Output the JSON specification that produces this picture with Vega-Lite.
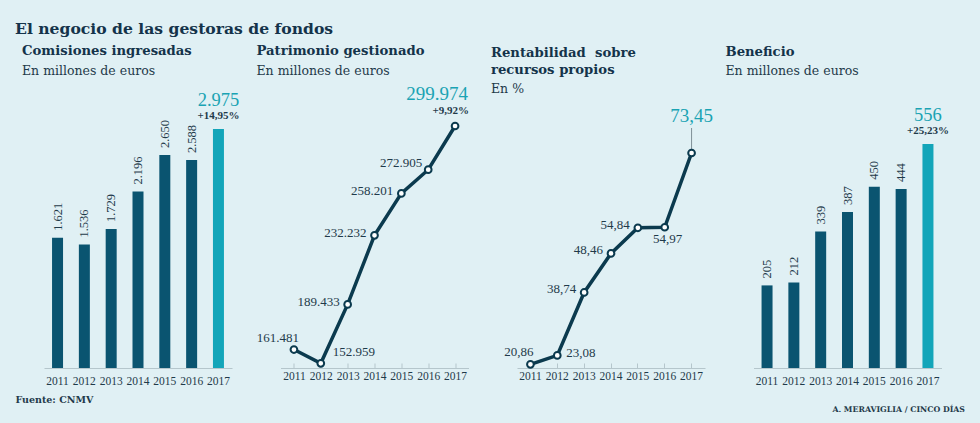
{
  "$schema": "https://vega.github.io/schema/vega-lite/v6.json",
  "background": "#e0f0f4",
  "padding": {"left": 15, "top": 21, "right": 20, "bottom": 20},
  "title": {
    "text": "El negocio de las gestoras de fondos",
    "font": "DejaVu Serif",
    "fontSize": 15.6,
    "fontWeight": "bold",
    "color": "#14334a",
    "anchor": "start",
    "dx": -29,
    "offset": 7
  },
  "datasets": {
    "comisiones": [
      {"year": "2011", "value": 1621},
      {"year": "2012", "value": 1536},
      {"year": "2013", "value": 1729},
      {"year": "2014", "value": 2196},
      {"year": "2015", "value": 2650},
      {"year": "2016", "value": 2588},
      {"year": "2017", "value": 2975, "change": 0.1495}
    ],
    "patrimonio": [
      {"year": "2011", "value": 161481},
      {"year": "2012", "value": 152959},
      {"year": "2013", "value": 189433},
      {"year": "2014", "value": 232232},
      {"year": "2015", "value": 258201},
      {"year": "2016", "value": 272905},
      {"year": "2017", "value": 299974, "change": 0.0992}
    ],
    "rentabilidad": [
      {"year": "2011", "value": 20.86},
      {"year": "2012", "value": 23.08},
      {"year": "2013", "value": 38.74},
      {"year": "2014", "value": 48.46},
      {"year": "2015", "value": 54.84},
      {"year": "2016", "value": 54.97},
      {"year": "2017", "value": 73.45}
    ],
    "beneficio": [
      {"year": "2011", "value": 205},
      {"year": "2012", "value": 212},
      {"year": "2013", "value": 339},
      {"year": "2014", "value": 387},
      {"year": "2015", "value": 450},
      {"year": "2016", "value": 444},
      {"year": "2017", "value": 556, "change": 0.2523}
    ]
  },
  "bounds": "flush",
  "spacing": 48.5,
  "hconcat": [
    {
      "width": 188,
      "height": 250,
      "title": {"text": "Comisiones ingresadas", "subtitle": "En millones de euros", "dx": -22, "offset": 13},
      "data": {"name": "comisiones"},
      "encoding": {
        "x": {
          "field": "year", "type": "ordinal",
          "scale": {"paddingInner": 0.59, "paddingOuter": 0.3},
          "axis": {"title": "Fuente: CNMV", "titleX": -29, "titleY": 31, "titleAlign": "left", "titleBaseline": "middle", "titleAnchor": "start", "ticks": false, "labelPadding": 7}
        },
        "y": {"field": "value", "type": "quantitative", "scale": {"domain": [0, 3112]}, "axis": null}
      },
      "layer": [
        {
          "mark": {"type": "bar"},
          "encoding": {"color": {"condition": {"test": "datum.year == '2017'", "value": "#13a5b9"}, "value": "#0a5470"}}
        },
        {
          "transform": [{"filter": "datum.year != '2017'"}],
          "mark": {"type": "text", "angle": 270, "align": "left", "baseline": "middle", "dx": 7, "fontSize": 12.5, "font": "Liberation Serif", "color": "#1f3a4a"},
          "encoding": {"text": {"field": "value", "type": "quantitative", "format": ",.0f"}}
        },
        {
          "transform": [{"filter": "datum.year == '2017'"}],
          "mark": {"type": "text", "baseline": "middle", "dy": -29, "fontSize": 18.5, "font": "Liberation Serif", "color": "#1aa3b3"},
          "encoding": {"text": {"field": "value", "type": "quantitative", "format": ",.0f"}}
        },
        {
          "transform": [{"filter": "datum.year == '2017'"}],
          "mark": {"type": "text", "baseline": "middle", "dy": -13, "fontSize": 11, "fontWeight": "bold", "font": "Liberation Serif", "color": "#1f3a4a"},
          "encoding": {"text": {"field": "change", "type": "quantitative", "format": "+.2%"}}
        }
      ]
    },
    {
      "width": 188,
      "height": 250,
      "title": {"text": "Patrimonio gestionado", "subtitle": "En millones de euros", "dx": -24, "offset": 7},
      "data": {"name": "patrimonio"},
      "encoding": {
        "x": {"field": "year", "type": "ordinal", "axis": {"title": null, "ticks": true, "tickSize": -5, "labelPadding": 7}},
        "y": {"field": "value", "type": "quantitative", "scale": {"domain": [150047, 304931], "zero": false}, "axis": null}
      },
      "layer": [
        {"mark": {"type": "line", "color": "#0b3a4e", "strokeWidth": 3.5}},
        {"mark": {"type": "point", "filled": false, "fill": "white", "stroke": "#0b3a4e", "strokeWidth": 2, "size": 45, "opacity": 1}},
        {
          "transform": [{"filter": "datum.year == '2011'"}],
          "mark": {"type": "text", "align": "right", "baseline": "middle", "dx": 5, "dy": -12, "fontSize": 13, "font": "Liberation Serif", "color": "#1f3a4a"},
          "encoding": {"text": {"field": "value", "type": "quantitative", "format": ",.0f"}}
        },
        {
          "transform": [{"filter": "datum.year == '2012'"}],
          "mark": {"type": "text", "align": "left", "baseline": "middle", "dx": 12, "dy": -11, "fontSize": 13, "font": "Liberation Serif", "color": "#1f3a4a"},
          "encoding": {"text": {"field": "value", "type": "quantitative", "format": ",.0f"}}
        },
        {
          "transform": [{"filter": "datum.year == '2013' || datum.year == '2014' || datum.year == '2015'"}],
          "mark": {"type": "text", "align": "right", "baseline": "middle", "dx": -8, "dy": -2, "fontSize": 13, "font": "Liberation Serif", "color": "#1f3a4a"},
          "encoding": {"text": {"field": "value", "type": "quantitative", "format": ",.0f"}}
        },
        {
          "transform": [{"filter": "datum.year == '2016'"}],
          "mark": {"type": "text", "align": "right", "baseline": "middle", "dx": -6, "dy": -7, "fontSize": 13, "font": "Liberation Serif", "color": "#1f3a4a"},
          "encoding": {"text": {"field": "value", "type": "quantitative", "format": ",.0f"}}
        },
        {
          "transform": [{"filter": "datum.year == '2017'"}],
          "mark": {"type": "text", "align": "right", "baseline": "middle", "dx": 13, "dy": -32, "fontSize": 19, "font": "Liberation Serif", "color": "#1aa3b3"},
          "encoding": {"text": {"field": "value", "type": "quantitative", "format": ",.0f"}}
        },
        {
          "transform": [{"filter": "datum.year == '2017'"}],
          "mark": {"type": "text", "align": "right", "baseline": "middle", "dx": 14, "dy": -15, "fontSize": 11, "fontWeight": "bold", "font": "Liberation Serif", "color": "#1f3a4a"},
          "encoding": {"text": {"field": "change", "type": "quantitative", "format": "+.2%"}}
        }
      ]
    },
    {
      "width": 188,
      "height": 250,
      "title": {"text": ["Rentabilidad\u00a0 sobre", "recursos propios"], "subtitle": "En %", "dx": -26, "offset": 10},
      "data": {"name": "rentabilidad"},
      "encoding": {
        "x": {"field": "year", "type": "ordinal", "axis": {"title": null, "ticks": true, "tickSize": -5, "labelPadding": 7}},
        "y": {"field": "value", "type": "quantitative", "scale": {"domain": [19.94, 82.16], "zero": false}, "axis": null}
      },
      "layer": [
        {
          "transform": [{"filter": "datum.year == '2017'"}],
          "mark": {"type": "rule", "color": "#7f8f96", "strokeWidth": 1, "yOffset": -4, "y2Offset": -25},
          "encoding": {"y2": {"field": "value"}}
        },
        {"mark": {"type": "line", "color": "#0b3a4e", "strokeWidth": 3.5}},
        {"mark": {"type": "point", "filled": false, "fill": "white", "stroke": "#0b3a4e", "strokeWidth": 2, "size": 45, "opacity": 1}},
        {
          "transform": [{"filter": "datum.year == '2011'"}],
          "mark": {"type": "text", "align": "right", "baseline": "middle", "dx": 3, "dy": -12, "fontSize": 13, "font": "Liberation Serif", "color": "#1f3a4a"},
          "encoding": {"text": {"field": "value", "type": "quantitative", "format": ".2f"}}
        },
        {
          "transform": [{"filter": "datum.year == '2012'"}],
          "mark": {"type": "text", "align": "left", "baseline": "middle", "dx": 9, "dy": -2, "fontSize": 13, "font": "Liberation Serif", "color": "#1f3a4a"},
          "encoding": {"text": {"field": "value", "type": "quantitative", "format": ".2f"}}
        },
        {
          "transform": [{"filter": "datum.year == '2013' || datum.year == '2014' || datum.year == '2015'"}],
          "mark": {"type": "text", "align": "right", "baseline": "middle", "dx": -8, "dy": -3, "fontSize": 13, "font": "Liberation Serif", "color": "#1f3a4a"},
          "encoding": {"text": {"field": "value", "type": "quantitative", "format": ".2f"}}
        },
        {
          "transform": [{"filter": "datum.year == '2016'"}],
          "mark": {"type": "text", "align": "center", "baseline": "middle", "dx": 3, "dy": 12, "fontSize": 13, "font": "Liberation Serif", "color": "#1f3a4a"},
          "encoding": {"text": {"field": "value", "type": "quantitative", "format": ".2f"}}
        },
        {
          "transform": [{"filter": "datum.year == '2017'"}],
          "mark": {"type": "text", "align": "center", "baseline": "middle", "dy": -37, "fontSize": 19, "font": "Liberation Serif", "color": "#1aa3b3"},
          "encoding": {"text": {"field": "value", "type": "quantitative", "format": ".2f"}}
        }
      ]
    },
    {
      "width": 188,
      "height": 250,
      "title": {"text": "Beneficio", "subtitle": "En millones de euros", "dx": -28, "offset": 27},
      "data": {"name": "beneficio"},
      "encoding": {
        "x": {
          "field": "year", "type": "ordinal",
          "scale": {"paddingInner": 0.59, "paddingOuter": 0.3},
          "axis": {"title": "A. MERAVIGLIA / CINCO DÍAS", "titleX": 211, "titleY": 41, "titleAlign": "right", "titleBaseline": "middle", "titleAnchor": "end", "titleFontSize": 7.8, "ticks": false, "labelPadding": 7}
        },
        "y": {"field": "value", "type": "quantitative", "scale": {"domain": [0, 620.5]}, "axis": null}
      },
      "layer": [
        {
          "mark": {"type": "bar"},
          "encoding": {"color": {"condition": {"test": "datum.year == '2017'", "value": "#13a5b9"}, "value": "#0a5470"}}
        },
        {
          "transform": [{"filter": "datum.year != '2017'"}],
          "mark": {"type": "text", "angle": 270, "align": "left", "baseline": "middle", "dx": 7, "fontSize": 12.5, "font": "Liberation Serif", "color": "#1f3a4a"},
          "encoding": {"text": {"field": "value", "type": "quantitative", "format": ",.0f"}}
        },
        {
          "transform": [{"filter": "datum.year == '2017'"}],
          "mark": {"type": "text", "baseline": "middle", "dy": -29, "fontSize": 18.5, "font": "Liberation Serif", "color": "#1aa3b3"},
          "encoding": {"text": {"field": "value", "type": "quantitative", "format": ",.0f"}}
        },
        {
          "transform": [{"filter": "datum.year == '2017'"}],
          "mark": {"type": "text", "baseline": "middle", "dy": -13, "fontSize": 11, "fontWeight": "bold", "font": "Liberation Serif", "color": "#1f3a4a"},
          "encoding": {"text": {"field": "change", "type": "quantitative", "format": "+.2%"}}
        }
      ]
    }
  ],
  "config": {
    "locale": {"number": {"decimal": ",", "thousands": ".", "grouping": [3], "currency": ["", " €"]}},
    "view": {"stroke": null},
    "title": {
      "font": "DejaVu Serif",
      "fontSize": 13.2,
      "fontWeight": "bold",
      "color": "#14334a",
      "anchor": "start",
      "frame": "group",
      "lineHeight": 17.5,
      "subtitleFont": "DejaVu Serif",
      "subtitleFontSize": 12.5,
      "subtitleColor": "#1f3a4a",
      "subtitlePadding": 6
    },
    "axis": {
      "domainColor": "#b5c6cc",
      "tickColor": "#b5c6cc",
      "labelFont": "Liberation Serif",
      "labelFontSize": 11.5,
      "labelColor": "#1f3a4a",
      "labelAngle": 0,
      "grid": false,
      "titleFont": "DejaVu Serif",
      "titleFontSize": 9.5,
      "titleFontWeight": "bold",
      "titleColor": "#1f3a4a"
    }
  }
}
